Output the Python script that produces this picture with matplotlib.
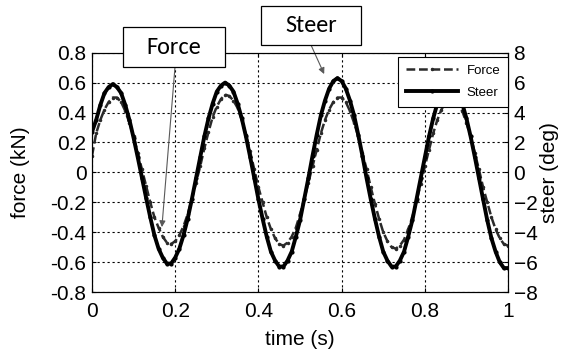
import matplotlib.pyplot as plt
import matplotlib.font_manager as fm
from matplotlib.patches import Rectangle

# time axis (s), 0.01 s steps
time_s = [i / 100 for i in range(101)]

# steer angle (deg)
steer_deg = [2.7, 3.5, 4.5, 5.3, 5.7, 5.9, 5.7, 5.3, 4.5, 3.5,
             2.3, 1.0, -0.35, -1.7, -3.0, -4.2, -5.1, -5.7, -6.1, -6.1,
             -5.7, -5.1, -4.2, -3.1, -1.8, -0.4, 1.0, 2.4, 3.6, 4.6,
             5.4, 5.8, 6.0, 5.8, 5.4, 4.6, 3.6, 2.4, 1.05, -0.37,
             -1.8, -3.1, -4.3, -5.3, -5.9, -6.3, -6.3, -5.9, -5.3, -4.3,
             -3.2, -1.8, -0.4, 1.1, 2.5, 3.8, 4.8, 5.6, 6.1, 6.3,
             6.1, 5.6, 4.8, 3.8, 2.5, 1.1, -0.4, -1.8, -3.1, -4.3,
             -5.3, -5.9, -6.3, -6.3, -5.9, -5.3, -4.3, -3.2, -1.8, -0.4,
             1.0, 2.4, 3.6, 4.6, 5.4, 5.8, 6.0, 5.8, 5.4, 4.6,
             3.6, 2.4, 1.05, -0.37, -1.8, -3.2, -4.4, -5.3, -6.0, -6.4,
             -6.4]

# force (kN)
force_kn = [0.11, 0.26, 0.35, 0.42, 0.47, 0.50, 0.50, 0.47, 0.41, 0.33,
            0.24, 0.13, 0.02, -0.09, -0.20, -0.30, -0.37, -0.43, -0.47, -0.48,
            -0.46, -0.42, -0.36, -0.28, -0.18, -0.07, 0.04, 0.16, 0.27, 0.37,
            0.44, 0.49, 0.52, 0.51, 0.48, 0.43, 0.35, 0.25, 0.14, 0.02,
            -0.10, -0.20, -0.30, -0.38, -0.44, -0.48, -0.49, -0.47, -0.43, -0.37,
            -0.28, -0.18, -0.07, 0.04, 0.15, 0.26, 0.35, 0.42, 0.47, 0.50,
            0.50, 0.47, 0.41, 0.33, 0.24, 0.13, 0.02, -0.10, -0.21, -0.31,
            -0.40, -0.46, -0.50, -0.51, -0.49, -0.45, -0.38, -0.30, -0.19, -0.08,
            0.04, 0.15, 0.26, 0.35, 0.42, 0.47, 0.50, 0.50, 0.47, 0.41,
            0.33, 0.24, 0.13, 0.02, -0.10, -0.20, -0.30, -0.38, -0.44, -0.48,
            -0.49]

xticks = [0, 0.2, 0.4, 0.6, 0.8, 1]
xtick_labels = ['0', '0.2', '0.4', '0.6', '0.8', '1']
force_ticks = [-0.8, -0.6, -0.4, -0.2, 0, 0.2, 0.4, 0.6, 0.8]
force_labels = ['-0.8', '-0.6', '-0.4', '-0.2', '0', '0.2', '0.4', '0.6', '0.8']
steer_ticks = [-8, -6, -4, -2, 0, 2, 4, 6, 8]

plt.rcParams['font.family'] = ['Liberation Sans', 'DejaVu Sans']
names = set(f.name for f in fm.fontManager.ttflist)
box_font = ['Carlito', 'Open Sans'] if 'Carlito' in names else ['Open Sans']
box_size = 17.5 if 'Carlito' in names else 15.5

fig = plt.figure(figsize=(5.63, 3.53), dpi=100)
ax = fig.add_axes([0.1634, 0.1728, 0.739, 0.678])
ax2 = ax.twinx()

ax.plot(time_s, force_kn, '--', color='#2a2a2a', lw=1.8, marker='.', ms=3,
        dashes=(3.5, 1.5), label='Force')
ax2.plot(time_s, steer_deg, '-', color='black', lw=2.8, marker='.', ms=4, label='Steer')

ax.set_xlim(0, 1)
ax.set_ylim(-0.8, 0.8)
ax2.set_ylim(-8, 8)
ax.set_xticks(xticks)
ax.set_xticklabels(xtick_labels)
ax.set_yticks(force_ticks)
ax.set_yticklabels(force_labels)
ax2.set_yticks(steer_ticks)
ax.grid(True, color='black', ls=(0, (2, 2.5)), lw=0.8)

for a in (ax, ax2):
    a.tick_params(direction='in', labelsize=15, length=3, pad=4)
ax.tick_params(top=True)
ax.tick_params(axis='x', pad=7)
ax.set_xlabel('time (s)', fontsize=15, va='center')
ax.set_ylabel('force (kN)', fontsize=15, va='center')
ax2.set_ylabel('steer (deg)', fontsize=15, va='center')
ax.xaxis.set_label_coords(0.5, -0.2)
ax.yaxis.set_label_coords(-0.173, 0.5)
ax2.yaxis.set_label_coords(1.1, 0.5)

h1, l1 = ax.get_legend_handles_labels()
h2, l2 = ax2.get_legend_handles_labels()
leg = ax2.legend(h1 + h2, l1 + l2, loc='upper right', bbox_to_anchor=(1.0, 0.983),
                 borderaxespad=0, fancybox=False, edgecolor='black', framealpha=1,
                 fontsize=9.5, handlelength=4.0, handletextpad=0.6, labelspacing=0.75,
                 borderpad=0.6)
leg.get_frame().set_linewidth(0.8)

# callout boxes
W, H = 563, 353
for (x0, y0, x1, y1, txt) in [(123, 27, 225, 67, 'Force'), (261, 6, 361, 45, 'Steer')]:
    fig.patches.append(Rectangle((x0 / W, 1 - y1 / H), (x1 - x0) / W, (y1 - y0) / H,
                                 transform=fig.transFigure, facecolor='white',
                                 edgecolor='black', lw=0.9, zorder=5))
    fig.text((x0 + x1) / 2 / W, 1 - (y0 + y1) / 2 / H, txt, ha='center', va='center',
             fontsize=box_size, family=box_font, zorder=6)

arrow = dict(arrowstyle='-|>', color='0.35', lw=0.8, mutation_scale=9, shrinkA=0, shrinkB=0)
ax.annotate('', xy=(0.168, -0.366), xycoords='data', xytext=(175 / W, 1 - 67 / H),
            textcoords='figure fraction', arrowprops=arrow, annotation_clip=False)
ax.annotate('', xy=(0.558, 0.657), xycoords='data', xytext=(311 / W, 1 - 45 / H),
            textcoords='figure fraction', arrowprops=arrow, annotation_clip=False)

fig.savefig('out.png', dpi=100)
